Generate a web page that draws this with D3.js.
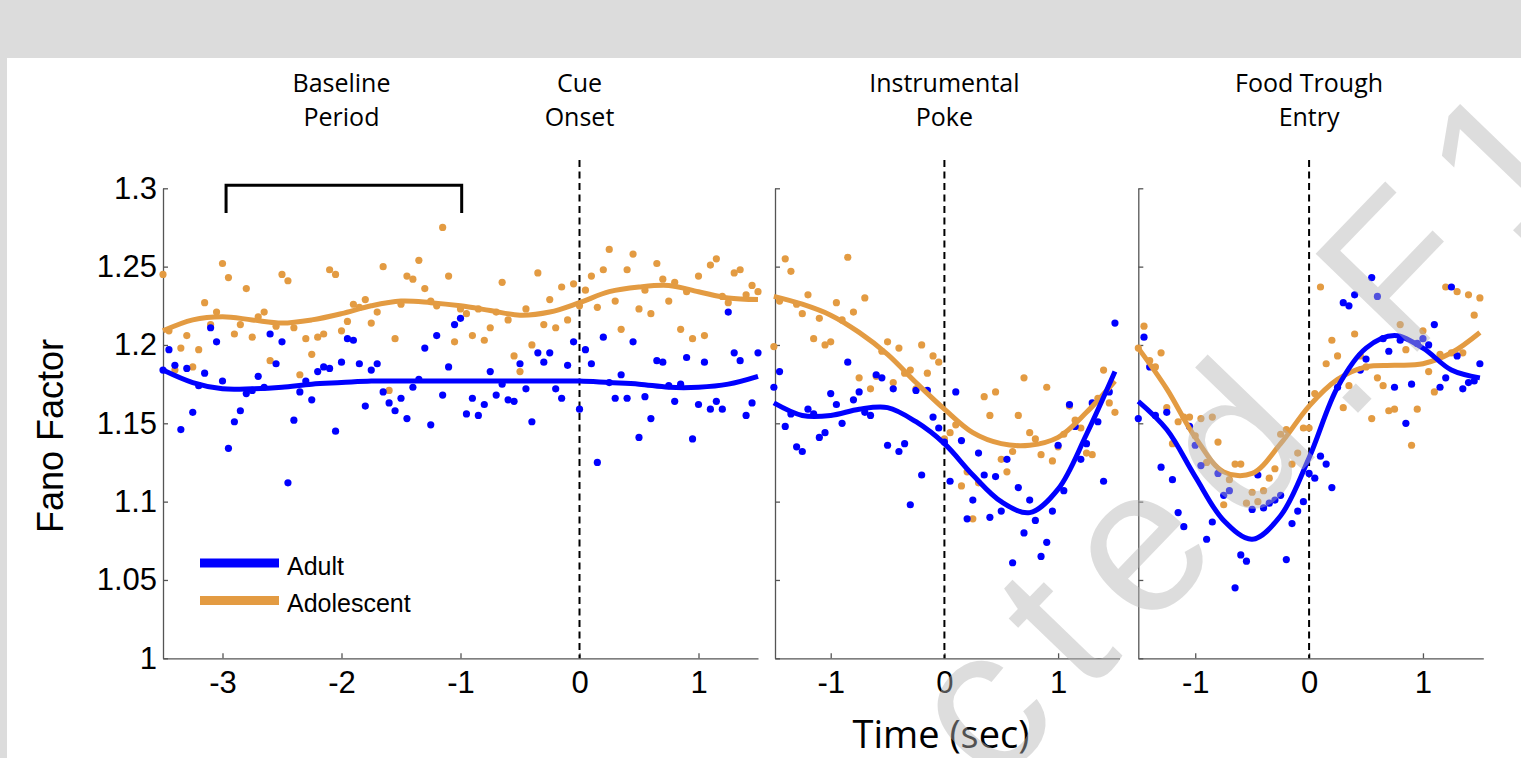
<!DOCTYPE html>
<html>
<head>
<meta charset="utf-8">
<script src="https://cdn.jsdelivr.net/npm/d3@7"></script>
<style>
  body { margin: 0; background: #fff; }
  svg { display: block; }
</style>
</head>
<body>
<svg id="chart" width="1521" height="758"></svg>
<script>
// time bins are 50 ms wide, starting at the left edge of each panel
const binStep = 0.05;
const baselineStart = -3.5;
const pokeStart = -1.5;
const troughStart = -1.5;

// Fano factor per bin, aligned to cue onset (-3.5 .. 1.5 s)
const baselineAdult = [
  1.184, 1.197, 1.187, 1.146, 1.185, 1.157, 1.174, 1.182, 1.211, 1.202,
  1.177, 1.134, 1.151, 1.158, 1.169, 1.171, 1.180, 1.173, 1.207, 1.188,
  1.202, 1.112, 1.152, 1.170, 1.177, 1.165, 1.183, 1.186, 1.185, 1.145,
  1.189, 1.204, 1.203, 1.188, 1.161, 1.184, 1.188, 1.170, 1.163, 1.158,
  1.166, 1.153, 1.173, 1.178, 1.198, 1.149, 1.206, 1.168, 1.186, 1.213,
  1.217, 1.156, 1.166, 1.155, 1.162, 1.183, 1.168, 1.175, 1.165, 1.164,
  1.188, 1.172, 1.151, 1.195, 1.189, 1.195, 1.172, 1.166, 1.187, 1.202,
  1.159, 1.197, 1.188, 1.125, 1.205, 1.176, 1.166, 1.181, 1.166, 1.202,
  1.141, 1.167, 1.153, 1.190, 1.189, 1.174, 1.164, 1.175, 1.192, 1.140,
  1.162, 1.189, 1.159, 1.164, 1.159, 1.221, 1.195, 1.190, 1.155, 1.163,
  1.195
];
const baselineAdolescent = [
  1.245, 1.209, 1.184, 1.198, 1.206, 1.186, 1.197, 1.227, 1.213, 1.221,
  1.252, 1.243, 1.207, 1.213, 1.236, 1.205, 1.218, 1.221, 1.190, 1.212,
  1.245, 1.241, 1.211, 1.181, 1.204, 1.194, 1.205, 1.207, 1.248, 1.245,
  1.209, 1.215, 1.226, 1.224, 1.229, 1.214, 1.221, 1.250, 1.171, 1.204,
  1.226, 1.244, 1.242, 1.254, 1.236, 1.228, 1.225, 1.275, 1.244, 1.202,
  1.223, 1.220, 1.206, 1.223, 1.203, 1.211, 1.221, 1.240, 1.216, 1.193,
  1.183, 1.223, 1.200, 1.246, 1.213, 1.229, 1.211, 1.237, 1.216, 1.239,
  1.225, 1.235, 1.244, 1.224, 1.248, 1.261, 1.228, 1.210, 1.248, 1.258,
  1.223, 1.235, 1.220, 1.252, 1.242, 1.228, 1.240, 1.210, 1.234, 1.204,
  1.244, 1.206, 1.251, 1.255, 1.231, 1.227, 1.246, 1.248, 1.232, 1.238,
  1.234
];

// aligned to instrumental poke (-1.5 .. 1.5 s)
const pokeAdult = [
  1.173, 1.183, 1.148, 1.156, 1.135, 1.132, 1.159, 1.156, 1.141, 1.144,
  1.169, 1.162, 1.150, 1.189, 1.165, 1.170, 1.157, 1.155, 1.181, 1.179,
  1.136, 1.172, 1.132, 1.137, 1.098, 1.171, 1.117, 1.171, 1.154, 1.147,
  1.138, 1.113, 1.170, 1.139, 1.089, 1.101, 1.131, 1.117, 1.090, 1.116,
  1.094, 1.127, 1.061, 1.109, 1.080, 1.101, 1.088, 1.065, 1.074, 1.094,
  1.136, 1.107, 1.162, 1.148, 1.127, 1.137, 1.163, 1.151, 1.113, 1.170,
  1.214
];
const pokeAdolescent = [
  1.199, 1.228, 1.255, 1.247, 1.226, 1.220, 1.232, 1.204, 1.217, 1.200,
  1.202, 1.227, 1.216, 1.256, 1.221, 1.179, 1.230, 1.172, 1.180, 1.196,
  1.202, 1.176, 1.198, 1.182, 1.184, 1.172, 1.200, 1.182, 1.193, 1.189,
  1.140, 1.144, 1.149, 1.110, 1.119, 1.089, 1.112, 1.167, 1.155, 1.170,
  1.127, 1.119, 1.132, 1.155, 1.179, 1.144, 1.140, 1.130, 1.173, 1.126,
  1.135, 1.143, 1.161, 1.152, 1.147, 1.131, 1.130, 1.166, 1.184, 1.163,
  1.157
];

// aligned to food trough entry (-1.5 .. 1.5 s)
const troughAdult = [
  1.153, 1.205, 1.186, 1.155, 1.122, 1.157, 1.114, 1.093, 1.084, 1.148,
  1.136, 1.123, 1.076, 1.087, 1.118, 1.104, 1.107, 1.045, 1.066, 1.062,
  1.095, 1.117, 1.096, 1.099, 1.101, 1.104, 1.063, 1.086, 1.094, 1.100,
  1.118, 1.115, 1.129, 1.124, 1.109, 1.173, 1.227, 1.225, 1.232, 1.184,
  1.191, 1.243, 1.231, 1.204, 1.196, 1.173, 1.203, 1.150, 1.175, 1.201,
  1.204, 1.200, 1.213, 1.173, 1.179, 1.237, 1.193, 1.172, 1.176, 1.177,
  1.188
];
const troughAdolescent = [
  1.198, 1.212, 1.190, 1.186, 1.195, 1.160, 1.137, 1.151, 1.154, 1.154,
  1.142, 1.153, 1.125, 1.154, 1.138, 1.098, 1.114, 1.124, 1.124, 1.099,
  1.106, 1.100, 1.107, 1.115, 1.121, 1.143, 1.146, 1.124, 1.131, 1.147,
  1.147, 1.169, 1.237, 1.188, 1.203, 1.193, 1.160, 1.174, 1.207, 1.193,
  1.186, 1.153, 1.179, 1.174, 1.158, 1.159, 1.213, 1.197, 1.136, 1.159,
  1.209, 1.183, 1.170, 1.194, 1.237, 1.195, 1.234, 1.195, 1.232, 1.219,
  1.230
];

// smoothed fits, read at knot times
const fitTimesBaseline = [-3.5, -3.25, -3, -2.75, -2.5, -2.25, -2, -1.75, -1.5, -1.25, -1,
  -0.75, -0.5, -0.25, 0, 0.25, 0.5, 0.75, 1, 1.25, 1.5];
const fitBaselineAdult = [1.184, 1.176, 1.172, 1.172, 1.173, 1.175, 1.176, 1.177, 1.177, 1.177, 1.177,
  1.177, 1.177, 1.177, 1.177, 1.176, 1.175, 1.173, 1.173, 1.175, 1.180];
const fitBaselineAdolescent = [1.209, 1.216, 1.218, 1.216, 1.214, 1.216, 1.220, 1.225, 1.228, 1.227, 1.225,
  1.222, 1.219, 1.221, 1.227, 1.234, 1.237, 1.238, 1.234, 1.230, 1.229];

const fitTimesEvent = [-1.5, -1.25, -1, -0.75, -0.5, -0.25, 0, 0.25, 0.5, 0.75, 1, 1.25, 1.5];
const fitPokeAdult = [1.163, 1.155, 1.155, 1.159, 1.160, 1.151, 1.137, 1.117, 1.100, 1.093, 1.108, 1.143, 1.183];
const fitPokeAdolescent = [1.231, 1.226, 1.219, 1.208, 1.194, 1.176, 1.159, 1.144, 1.137, 1.136, 1.141, 1.157, 1.177];
const fitTroughAdult = [1.164, 1.146, 1.116, 1.088, 1.076, 1.091, 1.128, 1.173, 1.198, 1.206, 1.198, 1.184, 1.179];
const fitTroughAdolescent = [1.198, 1.172, 1.141, 1.119, 1.118, 1.137, 1.161, 1.178, 1.186, 1.187, 1.188, 1.195, 1.208];

const yTicks = [1, 1.05, 1.1, 1.15, 1.2, 1.25, 1.3];
const xTicksBaseline = [-3, -2, -1, 0, 1];
const xTicksEvent = [-1, 0, 1];
const seriesNames = ['Adult', 'Adolescent'];
const headerLines = [['Baseline', 'Period'], ['Cue', 'Onset'], ['Instrumental', 'Poke'], ['Food Trough', 'Entry']];
const headerTimes = [-2, 0, 0, 0];
const headerPanel = [0, 0, 1, 2];
const bracketTimes = [-2.97, -0.99];
const bracketLevels = [1.2843, 1.302];
const eventLineTop = 1.318;
const watermarkText = 'Protected.F1000';

const blue = '#0000ff';
const orange = '#e39b42';
const axisColor = '#555';
const tickFont = '"Liberation Sans", Arial, sans-serif';
const labelFont = '"Open Sans", "Noto Sans", sans-serif';

const svg = d3.select('#chart');

// grey frame of the page the figure sits on
svg.append('rect').attr('x', 0).attr('y', 0).attr('width', 1521).attr('height', 58).attr('fill', '#dcdcdc');
svg.append('rect').attr('x', 0).attr('y', 58).attr('width', 7).attr('height', 700).attr('fill', '#dcdcdc');

const y = d3.scaleLinear().domain([1, 1.3]).range([658.3, 188.3]);

const panels = [
    { start: baselineStart, adult: baselineAdult, adol: baselineAdolescent,
      fitT: fitTimesBaseline, fitA: fitBaselineAdult, fitB: fitBaselineAdolescent,
      domain: [-3.5, 1.5], range: [163, 758], ticks: xTicksBaseline, yLabels: true },
    { start: pokeStart, adult: pokeAdult, adol: pokeAdolescent,
      fitT: fitTimesEvent, fitA: fitPokeAdult, fitB: fitPokeAdolescent,
      domain: [-1.49, 1.54], range: [775, 1119.5], ticks: xTicksEvent, yLabels: false },
    { start: troughStart, adult: troughAdult, adol: troughAdolescent,
      fitT: fitTimesEvent, fitA: fitTroughAdult, fitB: fitTroughAdolescent,
      domain: [-1.5, 1.53], range: [1138.3, 1483.3], ticks: xTicksEvent, yLabels: false }
];

panels.forEach(p => {
    p.x = d3.scaleLinear().domain(p.domain).range(p.range);
    const g = svg.append('g');

    // y axis, ticks pointing inward like matlab
    const yAxis = d3.axisLeft(y)
        .tickValues(yTicks)
        .tickSizeInner(-5)
        .tickSizeOuter(0)
        .tickPadding(6)
        .tickFormat(d => p.yLabels ? String(d) : '');
    g.append('g')
        .attr('transform', `translate(${p.range[0]},0)`)
        .call(yAxis)
        .call(a => a.select('.domain').attr('stroke', axisColor).attr('stroke-width', 1.3))
        .call(a => a.selectAll('.tick line').attr('stroke', axisColor).attr('stroke-width', 1.3))
        .call(a => a.selectAll('text').attr('fill', '#000').style('font-family', tickFont).style('font-size', '31px'));

    const xAxis = d3.axisBottom(p.x)
        .tickValues(p.ticks)
        .tickSizeInner(-5)
        .tickSizeOuter(0)
        .tickPadding(13)
        .tickFormat(d => String(d));
    g.append('g')
        .attr('transform', `translate(0,${y(1)})`)
        .call(xAxis)
        .call(a => a.select('.domain').attr('stroke', axisColor).attr('stroke-width', 1.3))
        .call(a => a.selectAll('.tick line').attr('stroke', axisColor).attr('stroke-width', 1.3))
        .call(a => a.selectAll('text').attr('fill', '#000').style('font-family', tickFont).style('font-size', '31px'));

    // event time marker
    g.append('line')
        .attr('x1', p.x(0)).attr('x2', p.x(0))
        .attr('y1', y(eventLineTop)).attr('y2', y(1))
        .attr('stroke', '#000')
        .attr('stroke-width', 2)
        .attr('stroke-dasharray', '7,4.5');

    const t = i => p.start + i * binStep;

    g.append('g').selectAll('circle')
        .data(p.adol)
        .join('circle')
        .attr('cx', (d, i) => p.x(t(i)))
        .attr('cy', d => y(d))
        .attr('r', 3.6)
        .attr('fill', orange);

    g.append('g').selectAll('circle')
        .data(p.adult)
        .join('circle')
        .attr('cx', (d, i) => p.x(t(i)))
        .attr('cy', d => y(d))
        .attr('r', 3.6)
        .attr('fill', blue);

    const line = d3.line()
        .x(d => p.x(d[0]))
        .y(d => y(d[1]))
        .curve(d3.curveCatmullRom.alpha(0.5));

    g.append('path')
        .datum(p.fitT.map((tt, i) => [tt, p.fitB[i]]))
        .attr('d', line)
        .attr('fill', 'none')
        .attr('stroke', orange)
        .attr('stroke-width', 5);

    g.append('path')
        .datum(p.fitT.map((tt, i) => [tt, p.fitA[i]]))
        .attr('d', line)
        .attr('fill', 'none')
        .attr('stroke', blue)
        .attr('stroke-width', 5);
});

// baseline window bracket
const xb = panels[0].x;
svg.append('path')
    .attr('d', `M${xb(bracketTimes[0])},${y(bracketLevels[0])}V${y(bracketLevels[1])}H${xb(bracketTimes[1])}V${y(bracketLevels[0])}`)
    .attr('fill', 'none')
    .attr('stroke', '#000')
    .attr('stroke-width', 3);

// event headers
headerLines.forEach((lines, k) => {
    const cx = panels[headerPanel[k]].x(headerTimes[k]);
    const txt = svg.append('text')
        .attr('text-anchor', 'middle')
        .style('font-family', labelFont)
        .style('font-size', '25px')
        .attr('fill', '#000');
    lines.forEach((s, j) => {
        txt.append('tspan').attr('x', cx).attr('y', 92 + j * 34).text(s);
    });
});

// legend
const legendColors = [blue, orange];
seriesNames.forEach((name, i) => {
    const ly = 563 + i * 37.5;
    svg.append('line')
        .attr('x1', 200).attr('x2', 279)
        .attr('y1', ly).attr('y2', ly)
        .attr('stroke', legendColors[i])
        .attr('stroke-width', 9);
    svg.append('text')
        .attr('x', 287).attr('y', ly + 11.5)
        .style('font-family', tickFont)
        .style('font-size', '25px')
        .attr('fill', '#000')
        .text(name);
});

// axis titles
svg.append('text')
    .attr('transform', 'translate(63,436) rotate(-90)')
    .attr('text-anchor', 'middle')
    .style('font-family', tickFont)
    .style('font-size', '36px')
    .attr('fill', '#000')
    .text('Fano Factor');

svg.append('text')
    .attr('x', 941).attr('y', 748)
    .attr('text-anchor', 'middle')
    .style('font-family', labelFont)
    .style('font-size', '38px')
    .attr('fill', '#000')
    .text('Time (sec)');

// translucent watermark over the figure
const wmg = svg.append('g').attr('transform', 'translate(1295,478) rotate(-46)');
const wm = wmg.append('text')
    .attr('x', 0).attr('y', 0)
    .style('font-family', tickFont)
    .style('font-size', '205px')
    .attr('letter-spacing', 30)
    .attr('fill', 'rgb(180,180,180)')
    .attr('fill-opacity', 0.45)
    .text(watermarkText);
const di = watermarkText.indexOf('d');
const ext = wm.node().getExtentOfChar(di);
wm.attr('x', -(ext.x + ext.width / 2));
</script>
</body>
</html>
